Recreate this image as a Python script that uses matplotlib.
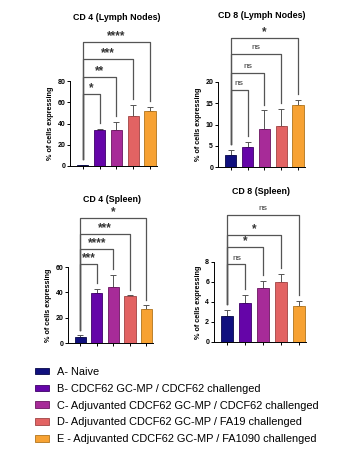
import matplotlib
matplotlib.use("Agg")
import matplotlib.pyplot as plt
import matplotlib.patches as mpatches
import numpy as np

plt.rcParams['font.family'] = ['Liberation Sans', 'DejaVu Sans']

groups = ["A- Naive",
          "B- CDCF62 GC-MP / CDCF62 challenged",
          "C- Adjuvanted CDCF62 GC-MP / CDCF62 challenged",
          "D- Adjuvanted CDCF62 GC-MP / FA19 challenged",
          "E - Adjuvanted CDCF62 GC-MP / FA1090 challenged"]
colors = ['#10107e', '#6505a8', '#a72b98', '#e26363', '#f7a233']
edges = ['#08084a', '#3e0068', '#6a1660', '#a04444', '#b0741e']

# panel data: means, upper error, bracket heights, bracket labels
cd4_ln_mean = [0.6, 33.5, 34.0, 47.0, 52.0]
cd4_ln_err = [0.4, 1.5, 7.0, 10.5, 3.5]
cd4_ln_hts = [68, 84, 101, 117]
cd4_ln_sig = ["*", "**", "***", "****"]

cd8_ln_mean = [2.9, 4.7, 9.0, 9.7, 14.7]
cd8_ln_err = [1.1, 1.1, 4.3, 4.0, 1.0]
cd8_ln_hts = [18.1, 22.2, 26.5, 30.3]
cd8_ln_sig = ["ns", "ns", "ns", "*"]

cd4_sp_mean = [5.0, 39.5, 44.0, 37.0, 27.0]
cd4_sp_err = [1.2, 3.5, 10.0, 1.0, 3.0]
cd4_sp_hts = [62, 74, 86, 99]
cd4_sp_sig = ["***", "****", "***", "*"]

cd8_sp_mean = [2.65, 3.95, 5.45, 6.05, 3.65]
cd8_sp_err = [0.6, 0.8, 0.65, 0.8, 0.5]
cd8_sp_hts = [7.77, 9.53, 10.7, 12.7]
cd8_sp_sig = ["ns", "*", "*", "ns"]

fig = plt.figure(figsize=(3.45, 4.53), dpi=100)
W, H = 345.0, 453.0


def px_axes(x0, y_top, x1, y_bot):
    return fig.add_axes([x0 / W, 1 - y_bot / H, (x1 - x0) / W, (y_bot - y_top) / H])


def panel(ax, mean, err, hts, sig, ymax, step, title, title_xy):
    x = np.arange(5)
    ax.bar(x, mean, width=0.68, color=colors, edgecolor=edges, linewidth=0.6, zorder=2)
    for i in range(5):
        ax.errorbar(x[i], mean[i], yerr=[[0], [err[i]]], fmt='none',
                    ecolor='#555555', elinewidth=0.7, capsize=2.2, capthick=0.7, zorder=1)
    ax.set_ylim(0, ymax)
    ax.set_xlim(-0.75, 4.4)
    ax.set_yticks(np.arange(0, ymax + step / 2, step))
    ax.set_xticks(x)
    ax.set_xticklabels([])
    ax.tick_params(axis='y', labelsize=5, length=2.5, width=0.7, pad=1)
    ax.tick_params(axis='x', length=2.5, width=0.7)
    for lab in ax.get_yticklabels():
        lab.set_fontweight('bold')
    ax.spines['top'].set_visible(False)
    ax.spines['right'].set_visible(False)
    ax.spines['left'].set_linewidth(0.7)
    ax.spines['bottom'].set_linewidth(0.7)
    ax.set_ylabel("% of cells expressing", fontsize=5.2, fontweight='bold', labelpad=2)
    gap = 0.07 * ymax
    left_bot = mean[0] + err[0] + gap
    for j in range(4):
        t = j + 1
        h = hts[j]
        right_bot = mean[t] + err[t] + gap
        ax.plot([0, 0, t, t], [left_bot, h, h, right_bot], color='#555555',
                lw=0.9, clip_on=False, zorder=3)
        if sig[j] == "ns":
            ax.text(t / 2, h + 0.035 * ymax, sig[j], ha='center', va='bottom',
                    fontsize=6, color='#333333', clip_on=False)
        else:
            ax.text(t / 2, h - 0.002 * ymax, sig[j], ha='center', va='bottom',
                    fontsize=8.5, fontweight='bold', color='#333333', clip_on=False)
    fig.text(title_xy[0] / W, 1 - title_xy[1] / H, title, ha='center', va='center',
             fontsize=6.4, fontweight='bold')


ax1 = px_axes(70, 81, 157, 166)
panel(ax1, cd4_ln_mean, cd4_ln_err, cd4_ln_hts, cd4_ln_sig, 80, 20,
      "CD 4 (Lymph Nodes)", (117, 17))

ax2 = px_axes(218, 82, 305, 167)
panel(ax2, cd8_ln_mean, cd8_ln_err, cd8_ln_hts, cd8_ln_sig, 20, 5,
      "CD 8 (Lymph Nodes)", (262, 16))

ax3 = px_axes(68, 267, 153, 343)
panel(ax3, cd4_sp_mean, cd4_sp_err, cd4_sp_hts, cd4_sp_sig, 60, 20,
      "CD 4 (Spleen)", (112, 199))

ax4 = px_axes(214, 262, 306, 342)
panel(ax4, cd8_sp_mean, cd8_sp_err, cd8_sp_hts, cd8_sp_sig, 8, 2,
      "CD 8 (Spleen)", (261, 192))

handles = [mpatches.Patch(facecolor=c, edgecolor=e, linewidth=0.6, label=g)
           for c, e, g in zip(colors, edges, groups)]
fig.legend(handles=handles, loc='upper left', bbox_to_anchor=(35 / W, 1 - 367 / H),
           frameon=False, fontsize=7.9, handlelength=1.25, handleheight=0.55,
           handletextpad=0.75, labelspacing=0.62, borderaxespad=0, borderpad=0)

fig.savefig("out.png", dpi=100)
